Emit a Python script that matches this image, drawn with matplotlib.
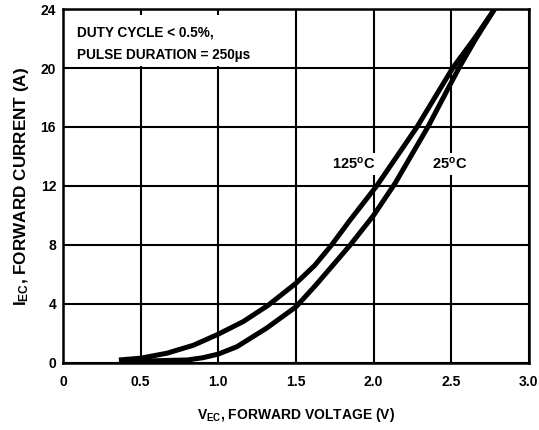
"""Forward characteristic of the emitter-collector diode (V_EC vs I_EC)."""
import matplotlib
matplotlib.use('Agg')
import matplotlib.pyplot as plt
from matplotlib.patches import Rectangle

plt.rcParams['font.family'] = ['Liberation Sans', 'DejaVu Sans']
plt.rcParams['font.weight'] = 'bold'
plt.rcParams['mathtext.fontset'] = 'custom'
plt.rcParams['mathtext.rm'] = 'Liberation Sans:bold'
plt.rcParams['mathtext.it'] = 'Liberation Sans:bold'
plt.rcParams['mathtext.bf'] = 'Liberation Sans:bold'

# ── data ──────────────────────────────────────────────────────────
v_125 = [0.36, 0.5, 0.67, 0.84, 1.0, 1.16, 1.32, 1.5, 1.62, 1.73, 1.85, 2.02, 2.28, 2.51, 2.65, 2.78]
i_125 = [0.2, 0.32, 0.66, 1.2, 1.95, 2.8, 3.9, 5.4, 6.6, 8.0, 9.7, 12.0, 16.0, 20.0, 22.0, 24.0]

v_25 = [0.36, 0.6, 0.8, 0.9, 1.0, 1.12, 1.31, 1.5, 1.63, 1.85, 2.0, 2.14, 2.35, 2.55, 2.66, 2.78]
i_25 = [0.15, 0.15, 0.2, 0.35, 0.6, 1.1, 2.35, 3.8, 5.3, 8.0, 10.0, 12.2, 16.0, 20.0, 22.0, 24.0]

x_ticks = [0, 0.5, 1.0, 1.5, 2.0, 2.5, 3.0]
x_labels = ['0', '0.5', '1.0', '1.5', '2.0', '2.5', '3.0']
y_ticks = [0, 4, 8, 12, 16, 20, 24]

fig = plt.figure(figsize=(5.39, 4.30), dpi=100)
ax = fig.add_axes([0.117, 0.156, 0.864, 0.823])

ax.set_xlim(0, 3.0)
ax.set_ylim(0, 24)
ax.set_xticks(x_ticks)
ax.set_xticklabels(x_labels)
ax.set_yticks(y_ticks)
ax.set_axisbelow(True)
ax.grid(True, color='black', lw=1.5)
ax.tick_params(length=0, labelsize=10)
ax.tick_params(axis='x', pad=9)
ax.tick_params(axis='y', pad=5)
for s in ax.spines.values():
    s.set_linewidth(1.8)

# white box behind the test-condition note (hides the grid there)
ax.add_patch(Rectangle((0.01, 20.15), 1.39, 3.45, facecolor='white',
                       edgecolor='none', zorder=1))
ax.text(0.09, 22.4, 'DUTY CYCLE < 0.5%,', fontsize=9.8, va='center', zorder=4)
ax.text(0.09, 20.85, 'PULSE DURATION = 250µs', fontsize=9.8, va='center', zorder=4)

for v, i in [(v_125, i_125), (v_25, i_25)]:
    ax.plot(v, i, color='black', lw=3.6, solid_capstyle='butt',
            solid_joinstyle='round', zorder=3)

lbl_box = dict(facecolor='white', edgecolor='none', pad=2)
ax.text(1.87, 13.5, '125$^{\\mathrm{o}}$C', fontsize=10.5, ha='center',
        va='center', bbox=lbl_box, zorder=2)
ax.text(2.49, 13.5, '25$^{\\mathrm{o}}$C', fontsize=10.5, ha='center',
        va='center', bbox=lbl_box, zorder=2)

ax.set_xlabel('V$_{\\mathrm{EC}}$, FORWARD VOLTAGE (V)', fontsize=10,
              fontweight='bold', labelpad=12)
ax.set_ylabel('I$_{\\mathrm{EC}}$, FORWARD CURRENT (A)', fontsize=12.3,
              fontweight='bold', labelpad=7)

fig.savefig('out.png', dpi=100, facecolor='white')
